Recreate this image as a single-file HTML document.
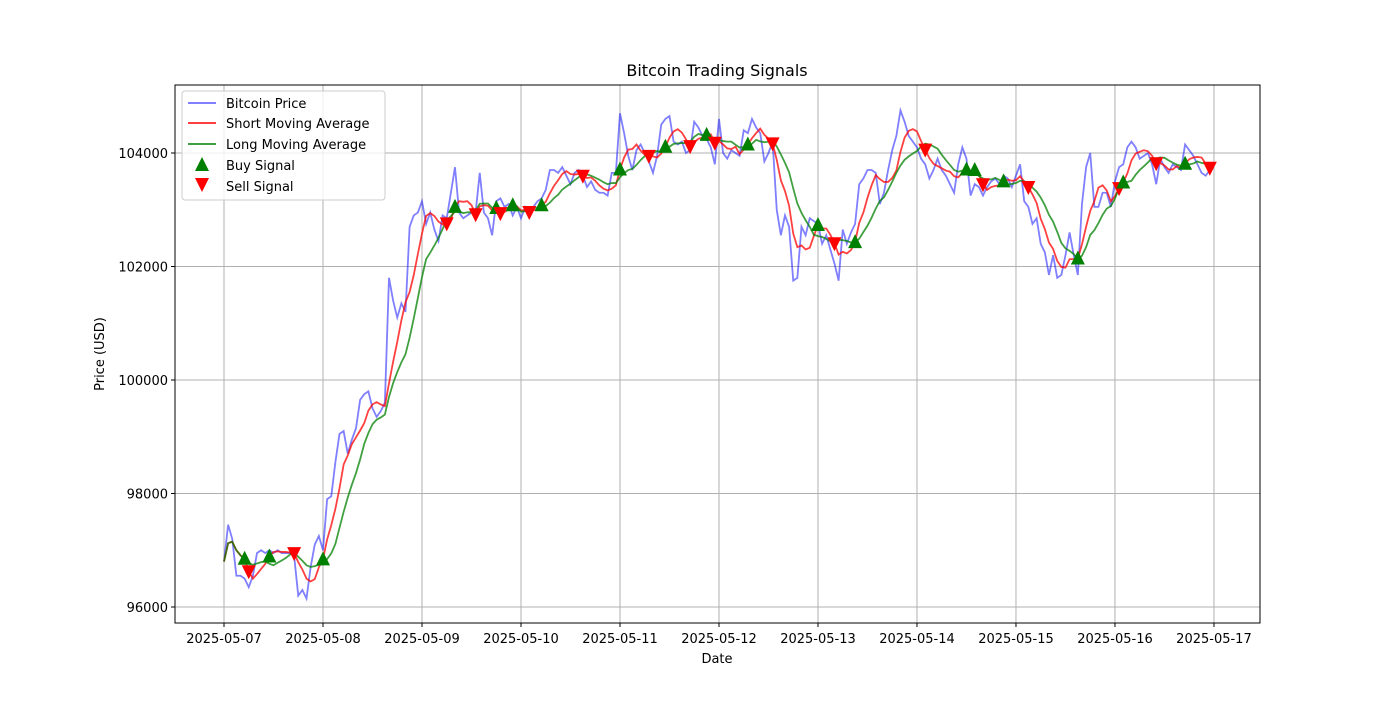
<!DOCTYPE html>
<html><head><meta charset="utf-8"><style>
body{margin:0;background:#fff;font-family:"Liberation Sans","DejaVu Sans",sans-serif;}
svg text{font-family:"DejaVu Sans","Liberation Sans",sans-serif;}
</style></head><body>
<svg id="chart" width="1400" height="700" xmlns="http://www.w3.org/2000/svg">
<rect width="1400" height="700" fill="#fff"/>
<text x="717" y="76" font-size="16" text-anchor="middle">Bitcoin Trading Signals</text>
<g id="grid"></g><g id="series"></g><g id="axes"></g>
<text x="717" y="663" font-size="13" text-anchor="middle">Date</text>
<text transform="translate(104,354) rotate(-90)" font-size="13" text-anchor="middle">Price (USD)</text>
<g>
<rect x="182" y="91" width="203" height="109" fill="#fff" fill-opacity="0.8" stroke="#ccc" rx="3"/>
<g><line x1="188" y1="103" x2="216" y2="103" stroke="#0000ff" stroke-opacity="0.5" stroke-width="2"/><text x="226" y="108" font-size="13">Bitcoin Price</text></g>
<g><line x1="188" y1="123" x2="216" y2="123" stroke="red" stroke-opacity="0.75" stroke-width="2"/><text x="226" y="128" font-size="13">Short Moving Average</text></g>
<g><line x1="188" y1="144" x2="216" y2="144" stroke="green" stroke-opacity="0.75" stroke-width="2"/><text x="226" y="149" font-size="13">Long Moving Average</text></g>
<g><polygon points="202,157 209,171 195,171" fill="green"/><text x="226" y="170" font-size="13">Buy Signal</text></g>
<g><polygon points="195,178 209,178 202,192" fill="red"/><text x="226" y="191" font-size="13">Sell Signal</text></g>
</g>
</svg>
<script>
const tickLabels=["2025-05-07","2025-05-08","2025-05-09","2025-05-10","2025-05-11","2025-05-12","2025-05-13","2025-05-14","2025-05-15","2025-05-16","2025-05-17"];
const yTicks=[96000,98000,100000,102000,104000];
const prices=[
96800,97450,97200,96550,96550,96500,96350,96550,96950,97000,96950,97000,96950,97000,96950,96950,96950,96900,96200,96300,96150,96700,97100,97250,97000,
97900,97950,98550,99050,99100,98700,98950,99150,99650,99750,99800,99500,99350,99450,99600,101800,101400,101100,101350,101200,102700,102900,102950,103150,102750,
102950,102650,102450,102900,102850,103300,103750,102950,102850,102900,102950,102950,103650,102950,102850,102550,103150,103200,103050,103100,102900,103050,102850,103050,
102950,103050,103150,103200,103350,103700,103700,103650,103750,103600,103450,103650,103700,103600,103400,103500,103350,103300,103300,103250,103650,103650,104700,
104350,103950,103700,104050,104150,104000,103850,103650,103950,104500,104600,104650,104200,104150,104200,104000,104050,104550,104450,104300,104250,104100,103800,104600,
104000,103900,104050,104000,103950,104400,104350,104600,104450,104350,103850,104000,104200,103000,102550,102900,102700,101750,101800,102700,102550,102850,102800,102750,
102400,102550,102300,102050,101750,102650,102400,102600,102750,103450,103550,103700,103700,103650,103100,103300,103700,104050,104300,104750,104550,104300,104200,104100,
103900,103800,103550,103700,103900,103700,103600,103450,103300,103800,104100,103900,103250,103450,103400,103250,103400,103500,103550,103450,103600,103550,103400,103600,
103800,103150,103050,102750,102850,102400,102250,101850,102200,101800,101850,102200,102600,102200,101850,103100,103750,104000,103050,103050,103300,103300,103050,103500,
103750,103800,104100,104200,104100,103900,103950,104000,103800,103450,103900,103750,103650,103800,103750,103700,104150,104050,103950,103800,103650,103600,103700];
const shortWindow=5, longWindow=10;
const NS="http://www.w3.org/2000/svg";
const X0=175,X1=1260,Y0=85,Y1=623,dMin=-0.495,dMax=10.465,vMin=95718,vMax=105198;
const xs=d=>X0+(d-dMin)/(dMax-dMin)*(X1-X0);
const ys=v=>Y1-(v-vMin)/(vMax-vMin)*(Y1-Y0);
function mk(t,a,p){const e=document.createElementNS(NS,t);for(const k in a)e.setAttribute(k,a[k]);p.appendChild(e);return e;}
const grid=document.getElementById('grid'),axes=document.getElementById('axes'),ser=document.getElementById('series');
tickLabels.forEach((l,i)=>{const x=xs(i);
 const g=mk('line',{x1:x,x2:x,y1:Y0,y2:Y1,stroke:'#b0b0b0','stroke-width':1},grid);
 
 
 mk('line',{x1:x,x2:x,y1:Y1,y2:Y1+4,stroke:'#000'},axes);
 const t=mk('text',{x:x,y:Y1+20,'font-size':13,'text-anchor':'middle'},axes);t.textContent=l;
 
 });
yTicks.forEach(v=>{const y=ys(v);
 const g=mk('line',{x1:X0,x2:X1,y1:y,y2:y,stroke:'#b0b0b0','stroke-width':1},grid);
 
 
 mk('line',{x1:X0-4,x2:X0,y1:y,y2:y,stroke:'#000'},axes);
 const t=mk('text',{x:X0-7,y:y+5,'font-size':13,'text-anchor':'end'},axes);t.textContent=v;
 
 });
const fr=mk('rect',{x:X0,y:Y0,width:X1-X0,height:Y1-Y0,fill:'none',stroke:'#000'},axes);


function ma(w){return prices.map((_,i)=>{const s=prices.slice(Math.max(0,i-w+1),i+1);return s.reduce((a,b)=>a+b,0)/s.length;});}
const sMA=ma(shortWindow),lMA=ma(longWindow);
function line(arr,col,op,name){const p=mk('polyline',{points:arr.map((v,i)=>xs(i/24)+','+ys(v)).join(' '),fill:'none',stroke:col,'stroke-opacity':op,'stroke-width':1.8},ser);
 
 }
line(prices,'#0000ff',0.5,'bitcoin-price-line');
line(sMA,'red',0.75,'short-ma-line');
line(lMA,'green',0.75,'long-ma-line');
for(let i=1;i<prices.length;i++){
 const prev=sMA[i-1]-lMA[i-1],cur=sMA[i]-lMA[i];
 const x=xs(i/24),y=ys(sMA[i]);
 if(prev<=0&&cur>0){const m=mk('polygon',{points:`${x},${y-8} ${x+7},${y+6} ${x-7},${y+6}`,fill:'green'},ser);
  
  }
 else if(prev>=0&&cur<0){const m=mk('polygon',{points:`${x-7},${y-6} ${x+7},${y-6} ${x},${y+8}`,fill:'red'},ser);
  
  }
}
</script>
</body></html>
